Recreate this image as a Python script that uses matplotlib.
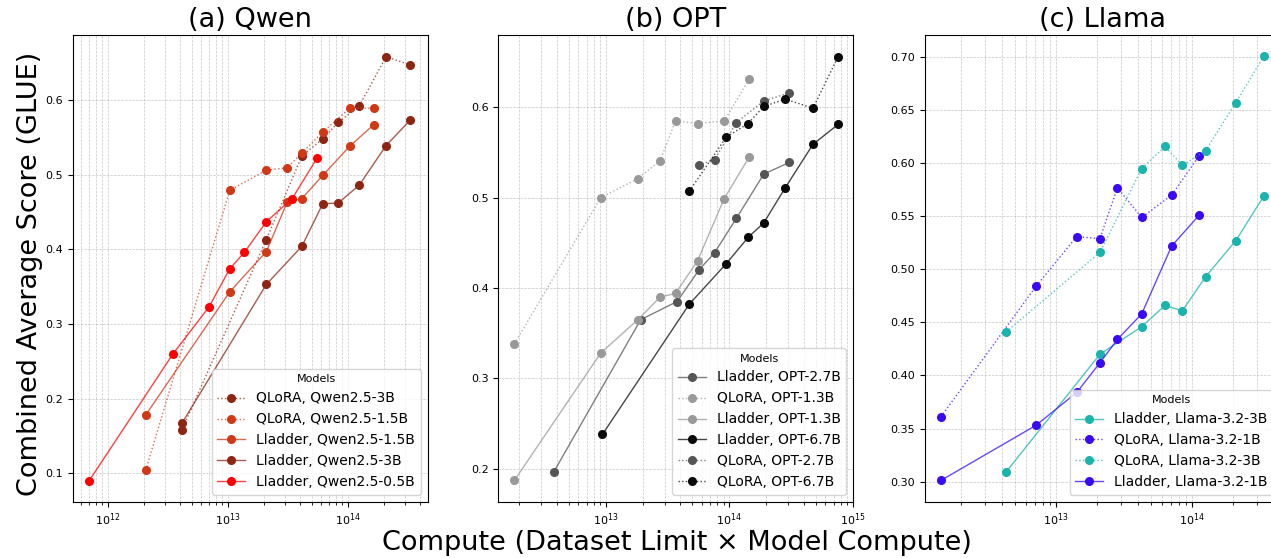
import matplotlib
matplotlib.use("Agg")
import matplotlib.pyplot as plt

# ---- (a) Qwen ----
qwen_05_x = [7.0e11, 3.5e12, 7.0e12, 1.04e13, 1.38e13, 2.1e13, 3.45e13, 5.55e13]
qwen_05_lladder = [0.090, 0.260, 0.323, 0.374, 0.396, 0.437, 0.468, 0.522]

qwen_15_x = [2.07e12, 1.04e13, 2.1e13, 3.13e13, 4.15e13, 6.2e13, 1.04e14, 1.65e14]
qwen_15_lladder = [0.178, 0.343, 0.397, 0.463, 0.468, 0.499, 0.538, 0.567]
qwen_15_qlora = [0.104, 0.479, 0.506, 0.509, 0.529, 0.557, 0.589, 0.589]

qwen_3_x = [4.15e12, 2.1e13, 4.15e13, 6.2e13, 8.35e13, 1.25e14, 2.09e14, 3.32e14]
qwen_3_lladder = [0.167, 0.353, 0.404, 0.461, 0.462, 0.486, 0.539, 0.573]
qwen_3_qlora = [0.158, 0.413, 0.525, 0.548, 0.570, 0.592, 0.658, 0.647]

# ---- (b) OPT ----
opt_13_x = [1.82e12, 9.1e12, 1.82e13, 2.76e13, 3.67e13, 5.53e13, 9.1e13, 1.45e14]
opt_13_lladder = [0.187, 0.328, 0.365, 0.390, 0.394, 0.430, 0.499, 0.545]
opt_13_qlora = [0.338, 0.500, 0.521, 0.541, 0.585, 0.582, 0.585, 0.631]

opt_27_x = [3.78e12, 1.92e13, 3.78e13, 5.68e13, 7.6e13, 1.14e14, 1.9e14, 3.06e14]
opt_27_lladder = [0.196, 0.365, 0.385, 0.420, 0.439, 0.477, 0.526, 0.539]
opt_27_qlora_x = [5.68e13, 7.6e13, 1.14e14, 1.9e14, 3.06e14]
opt_27_qlora = [0.536, 0.542, 0.583, 0.607, 0.616]

opt_67_x = [9.4e12, 4.74e13, 9.46e13, 1.42e14, 1.9e14, 2.84e14, 4.76e14, 7.6e14]
opt_67_lladder = [0.238, 0.382, 0.427, 0.456, 0.472, 0.511, 0.559, 0.581]
opt_67_qlora_x = [4.74e13, 9.46e13, 1.42e14, 1.9e14, 2.84e14, 4.76e14, 7.6e14]
opt_67_qlora = [0.507, 0.567, 0.582, 0.601, 0.609, 0.599, 0.656]

# ---- (c) Llama ----
llama_1_x = [1.43e12, 7.13e12, 1.42e13, 2.1e13, 2.82e13, 4.25e13, 7.05e13, 1.12e14]
llama_1_lladder = [0.301, 0.353, 0.384, 0.412, 0.434, 0.458, 0.522, 0.551]
llama_1_qlora = [0.361, 0.484, 0.531, 0.529, 0.577, 0.549, 0.570, 0.607]

llama_3_x = [4.3e12, 2.1e13, 4.25e13, 6.3e13, 8.45e13, 1.25e14, 2.08e14, 3.34e14]
llama_3_lladder = [0.309, 0.420, 0.446, 0.466, 0.461, 0.493, 0.527, 0.569]
llama_3_qlora = [0.441, 0.516, 0.595, 0.616, 0.598, 0.612, 0.657, 0.701]

c_q05, c_q15, c_q3 = "#ff0000", "#d03816", "#8e2512"
c_o13, c_o27, c_o67 = "#999999", "#555555", "#0a0a0a"
c_l1, c_l3 = "#3a0af5", "#1ab3ad"


def curve(ax, x, y, color, ls, label):
    rgb = matplotlib.colors.to_rgb(color)
    ax.plot(x, y, linestyle=ls, marker="o", color=rgb + (0.75,), lw=1,
            ms=5.5, mfc=color, mec=color, label=label)


fig = plt.figure(figsize=(12.71, 5.58), dpi=100)
W = 355 / 1271
B = 1 - 501.7 / 558
H = (501.7 - 35) / 558
ax_a = fig.add_axes([72.7 / 1271, B, W, H])
ax_b = fig.add_axes([498.3 / 1271, B, W, H])
ax_c = fig.add_axes([925 / 1271, B, W, H])

curve(ax_a, qwen_3_x, qwen_3_qlora, c_q3, ":", "QLoRA, Qwen2.5-3B")
curve(ax_a, qwen_15_x, qwen_15_qlora, c_q15, ":", "QLoRA, Qwen2.5-1.5B")
curve(ax_a, qwen_15_x, qwen_15_lladder, c_q15, "-", "Lladder, Qwen2.5-1.5B")
curve(ax_a, qwen_3_x, qwen_3_lladder, c_q3, "-", "Lladder, Qwen2.5-3B")
curve(ax_a, qwen_05_x, qwen_05_lladder, c_q05, "-", "Lladder, Qwen2.5-0.5B")

curve(ax_b, opt_27_x, opt_27_lladder, c_o27, "-", "Lladder, OPT-2.7B")
curve(ax_b, opt_13_x, opt_13_qlora, c_o13, ":", "QLoRA, OPT-1.3B")
curve(ax_b, opt_13_x, opt_13_lladder, c_o13, "-", "Lladder, OPT-1.3B")
curve(ax_b, opt_67_x, opt_67_lladder, c_o67, "-", "Lladder, OPT-6.7B")
curve(ax_b, opt_27_qlora_x, opt_27_qlora, c_o27, ":", "QLoRA, OPT-2.7B")
curve(ax_b, opt_67_qlora_x, opt_67_qlora, c_o67, ":", "QLoRA, OPT-6.7B")

curve(ax_c, llama_3_x, llama_3_lladder, c_l3, "-", "Lladder, Llama-3.2-3B")
curve(ax_c, llama_1_x, llama_1_qlora, c_l1, ":", "QLoRA, Llama-3.2-1B")
curve(ax_c, llama_3_x, llama_3_qlora, c_l3, ":", "QLoRA, Llama-3.2-3B")
curve(ax_c, llama_1_x, llama_1_lladder, c_l1, "-", "Lladder, Llama-3.2-1B")

ax_a.set_xlim(10 ** 11.708, 10 ** 14.667)
ax_a.set_ylim(0.062, 0.687)
ax_b.set_xlim(10 ** 12.130, 10 ** 15.004)
ax_b.set_ylim(0.1635, 0.680)
ax_c.set_xlim(10 ** 12.039, 10 ** 14.643)
ax_c.set_ylim(0.281, 0.721)

for ax, title in [(ax_a, "(a) Qwen"), (ax_b, "(b) OPT"), (ax_c, "(c) Llama")]:
    ax.set_xscale("log")
    ax.set_title(title, fontsize=19.5)
    ax.grid(True, which="both", linestyle="--", linewidth=0.5, color="#b0b0b0", alpha=0.7)
    ax.tick_params(labelsize=8)
    ax.legend(loc="lower right", title="Models", fontsize=10, title_fontsize=8)

fig.text(30 / 1271, 1 - 274 / 558, "Combined Average Score (GLUE)", rotation=90,
         ha="center", va="center", fontsize=19.5)
fig.text(676.5 / 1271, 1 - 543 / 558, "Compute (Dataset Limit \u00d7 Model Compute)",
         ha="center", va="center", fontsize=19.5)

fig.savefig("out.png", dpi=100)
